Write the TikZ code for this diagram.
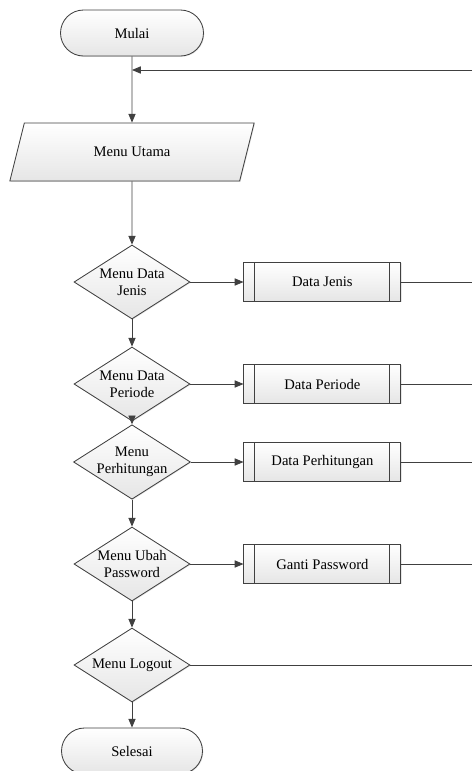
\documentclass[tikz,border=0pt]{standalone}
\usepackage{fontspec}
\setmainfont{Liberation Serif}
\usetikzlibrary{arrows.meta,shapes.geometric,shadows}

\begin{document}
\begin{tikzpicture}[->,>={Triangle[length=2.2mm,width=1.8mm]},
   line width=0.6pt, color=black!75,
   flowbox/.style={draw=black!75, top color=white, bottom color=black!10,
      drop shadow={opacity=0.2,shadow xshift=0.6pt,shadow yshift=-0.6pt},
      font=\fontsize{10.4}{11.9}\selectfont, text=black, align=center, inner sep=0pt},
   termin/.style={flowbox, rectangle, rounded corners=5.75mm, minimum height=11.5mm},
   iobox/.style={flowbox, trapezium, trapezium left angle=62, trapezium right angle=118,
      trapezium stretches=true, minimum width=61.25mm, minimum height=14.5mm},
   decide/.style={flowbox, diamond, aspect=1.57, minimum width=29mm, minimum height=18.5mm},
   subproc/.style={flowbox, rectangle, minimum width=39.25mm, minimum height=9.75mm,
      path picture={
         \draw[-,black!75] ([xshift=2.75mm]path picture bounding box.north west)
            -- ([xshift=2.75mm]path picture bounding box.south west);
         \draw[-,black!75] ([xshift=-2.75mm]path picture bounding box.north east)
            -- ([xshift=-2.75mm]path picture bounding box.south east);}}]
   \useasboundingbox (0,0) rectangle (11.8,-19.275);

   \node[termin, minimum width=35.75mm] (t0) at (3.3,-0.825) {Mulai};
   \node[iobox] (u) at (3.3,-3.8) {Menu Utama};
   
   \node[decide] (d1) at (3.3,-7.05)   {Menu Data\\Jenis};
   \node[decide] (d2) at (3.3,-9.6)    {Menu Data\\Periode};
   \node[decide] (d3) at (3.3,-11.55)  {Menu\\Perhitungan};
   \node[decide] (d4) at (3.3,-14.1)   {Menu Ubah\\Password};
   \node[decide] (d5) at (3.3,-16.625) {Menu Logout};
   
   \node[termin, minimum width=35.25mm] (t1) at (3.3,-18.775) {Selesai};
   
   \node[subproc] (p1) at (8.06,-7.05)  {Data Jenis};
   \node[subproc] (p2) at (8.06,-9.6)   {Data Periode};
   \node[subproc] (p3) at (8.06,-11.55) {Data Perhitungan};
   \node[subproc] (p4) at (8.06,-14.1)  {Ganti Password};
   
   \coordinate (back) at (11.8,-1.75);


   \path (t0) edge (u);
   \path (back) edge (back -| t0);
   \path (u) edge (d1);
   \path (d1) edge (d2);
   \path (d2) edge (d3);
   \path (d3) edge (d4);
   \path (d4) edge (d5);
   \path (d5) edge (t1);
   
   \path (d1) edge (p1);
   \path (d2) edge (p2);
   \path (d3) edge (p3);
   \path (d4) edge (p4);
   
   \path (p1) edge[-] (p1 -| back);
   \path (p2) edge[-] (p2 -| back);
   \path (p3) edge[-] (p3 -| back);
   \path (p4) edge[-] (p4 -| back);
   \path (d5) edge[-] (d5 -| back);

\end{tikzpicture}
\end{document}
